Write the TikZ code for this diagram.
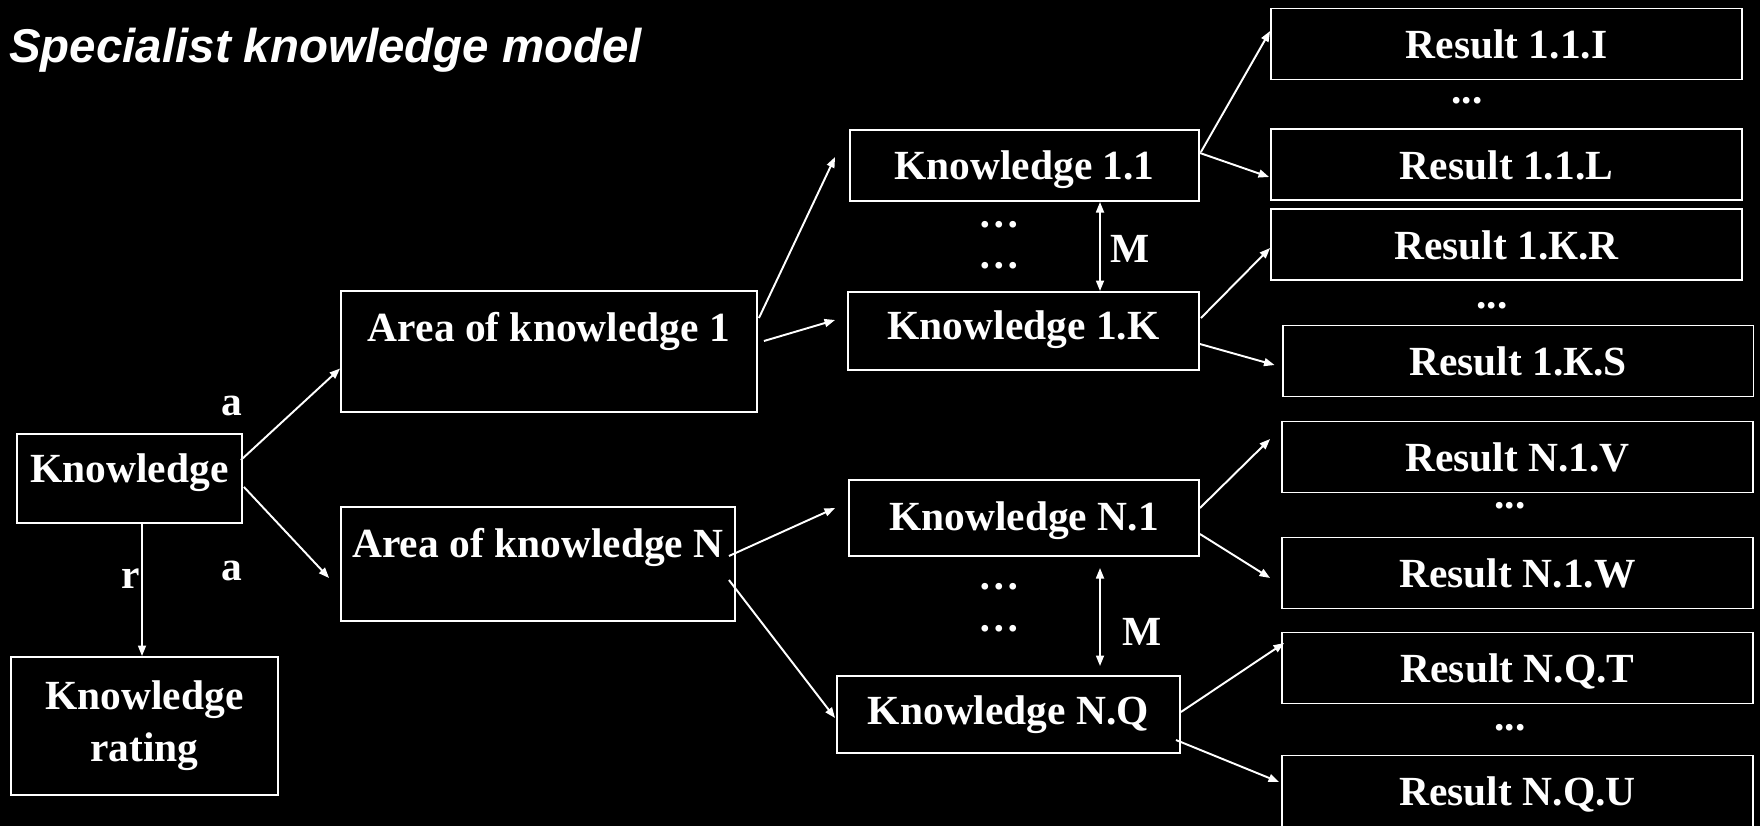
\documentclass[tikz,border=0pt]{standalone}
\usepackage{fontspec}
\setmainfont{Liberation Serif}
\newfontfamily\headfont{Liberation Sans}
\usetikzlibrary{calc,arrows.meta,positioning}
\tikzset{%
    frame/.style={%
        rectangle, draw=white, line width=1.1pt, text=white, inner sep=2pt,
        font=\bfseries\fontsize{23.6pt}{29.5pt}\selectfont
    },
    kbox/.style={%
        frame, text height=16.5pt, text depth=#1
    },
    kbox/.default=0pt,
    result/.style={%
        kbox, minimum width=9.42cm, minimum height=1.42cm
    },
    txt/.style={%
        text=white, inner sep=0pt, font=\bfseries\fontsize{23.6pt}{28pt}\selectfont
    },
    link/.style={%
        ->, white, line width=1.1pt
    },
    both/.style={%
        <->, white, line width=1.1pt
    },
}

\begin{document}
\begin{tikzpicture}[x=0.02cm, y=-0.02cm, >={Triangle[length=6pt,width=4.5pt]}]

    \fill[black] (0,0) rectangle (1760,826);
    \useasboundingbox (0,0) rectangle (1760,826);

    \node[txt, anchor=base west, font=\headfont\bfseries\itshape\fontsize{27pt}{32pt}\selectfont] (title) at (9,62) {Specialist knowledge model};

    \node[kbox=12.5pt, minimum width=4.5cm, minimum height=1.78cm] (know) at (129.5,478.5) {Knowledge};
    \node[frame, align=center, minimum width=5.34cm, minimum height=2.76cm] (rating) at (144.5,726) {Knowledge\\rating};

    \node[kbox=28.3pt, minimum width=8.32cm, minimum height=2.42cm] (area1) at (549,351.5) {Area of knowledge 1};
    \node[kbox=24.4pt, minimum width=7.88cm, minimum height=2.28cm] (areaN) at (538,564) {Area of knowledge N};

    \node[kbox=1pt, minimum width=6.98cm, minimum height=1.42cm] (k11) at (1024.5,165.5) {Knowledge 1.1};
    \node[kbox=7.4pt, minimum width=7.02cm, minimum height=1.56cm] (k1K) at (1023.5,331) {Knowledge 1.K};
    \node[kbox=2.8pt, minimum width=7cm, minimum height=1.52cm] (kN1) at (1024,518) {Knowledge N.1};
    \node[kbox=5.7pt, minimum width=6.86cm, minimum height=1.54cm] (kNQ) at (1008.5,714.5) {Knowledge N.Q};

    \node[result] (r11I) at (1506.5,44) {Result 1.1.I};
    \node[result] (r11L) at (1506.5,164.5) {Result 1.1.L};
    \node[result] (r1KR) at (1506.5,244.5) {Result 1.К.R};
    \node[result] (r1KS) at (1518,361) {Result 1.К.S};
    \node[result] (rN1V) at (1517.5,457) {Result N.1.V};
    \node[result] (rN1W) at (1517.5,573) {Result N.1.W};
    \node[result] (rNQT) at (1517.5,668) {Result N.Q.T};
    \node[result] (rNQU) at (1517.5,791) {Result N.Q.U};

    \node[txt] (dots11) at (1467,101) {...};
    \node[txt] (dots1K) at (1492,306) {...};
    \node[txt] (dotsN1) at (1510,506) {...};
    \node[txt] (dotsNQ) at (1510,728) {...};
    \node[txt] (vdots1a) at (999,225) {…};
    \node[txt] (vdots1b) at (999,266) {…};
    \node[txt] (vdotsNa) at (999,587) {…};
    \node[txt] (vdotsNb) at (999,629) {…};

    \node[txt] (a1) at (232,406) {a};
    \node[txt] (a2) at (232,571) {a};
    \node[txt] (r) at (131,579) {r};
    \node[txt] (m1) at (1130,249) {M};
    \node[txt] (m2) at (1142,632) {M};

    \draw[link] ($(know.east)+(-2,-18.5)$) -- ($(area1.west)+(0,17)$);
    \draw[link] ($(know.east)+(1,8.5)$) -- ($(areaN.west)+(-11,14)$);
    \draw[link] ($(know.south)+(12.5,0)$) -- ($(rating.north)+(-2.5,0)$);

    \draw[link] ($(area1.east)+(1,-33.5)$) -- ($(k11.west)+(-14,-8.5)$);
    \draw[link] ($(area1.east)+(6,-10.5)$) -- ($(k1K.west)+(-12,-11)$);
    \draw[link] ($(areaN.east)+(-7,-8)$) -- ($(kN1.west)+(-13,-10)$);
    \draw[link] ($(areaN.east)+(-7,16)$) -- ($(kNQ.west)+(-1,3.5)$);

    \draw[link] ($(k11.east)+(1,-13.5)$) -- ($(r11I.west)+(0,-13)$);
    \draw[link] ($(k11.east)+(0,-12.5)$) -- ($(r11L.west)+(-1,12.5)$);
    \draw[link] ($(k1K.east)+(1,-13)$) -- ($(r1KR.west)+(0,3.5)$);
    \draw[link] ($(k1K.east)+(0,13)$) -- ($(r1KS.west)+(-7,4)$);
    \draw[link] ($(kN1.east)+(0,-10)$) -- ($(rN1V.west)+(-11,-18)$);
    \draw[link] ($(kN1.east)+(0,16)$) -- ($(rN1W.west)+(-11,5)$);
    \draw[link] ($(kNQ.east)+(0,-2.5)$) -- ($(rNQT.west)+(3,-25)$);
    \draw[link] ($(kNQ.east)+(-5,25.5)$) -- ($(rNQU.west)+(-2,-9)$);

    \draw[both] ($(k11.south)+(75.5,0)$) -- ($(k1K.north)+(76.5,0)$);
    \draw[both] ($(kN1.south)+(76,11)$) -- ($(kNQ.north)+(91.5,-9)$);

\end{tikzpicture}
\end{document}
